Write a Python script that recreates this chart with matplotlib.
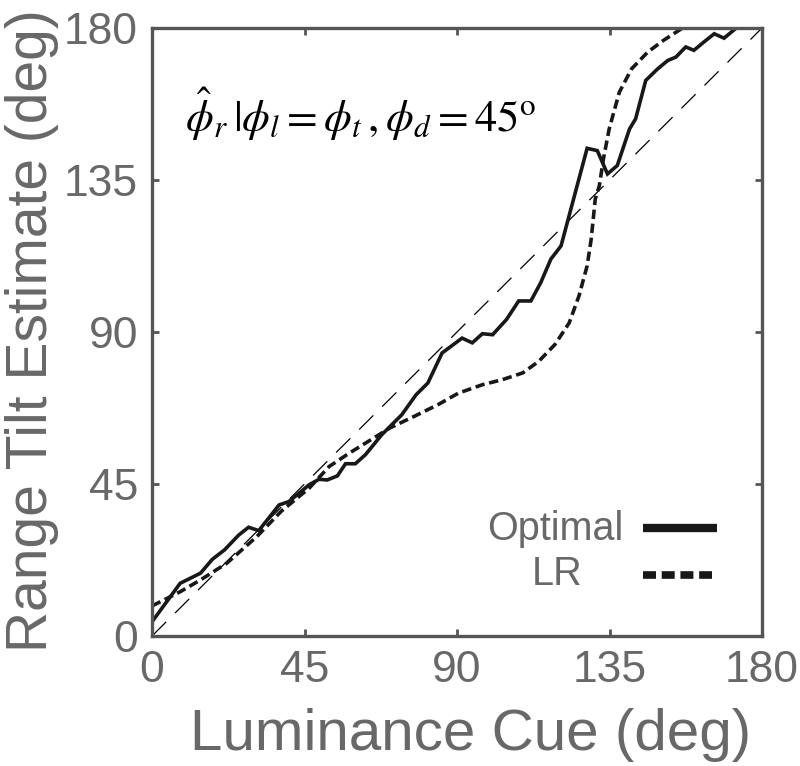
import matplotlib
matplotlib.use("Agg")
import matplotlib.pyplot as plt
from matplotlib.lines import Line2D

# Optimal estimator (solid)
opt_x = [0, 8.3, 14.3, 17.8, 21.4, 25.6, 28.5, 31.5, 37.5, 40.4, 46.4, 49.3, 51.7, 54.7,
         57.1, 60.0, 63.0, 67.8, 73.7, 77.9, 81.4, 85.6, 91.5, 94.5, 97.5, 100.5, 104.6,
         108.2, 111.8, 114.7, 117.7, 120.7, 128.4, 131.4, 134.4, 137.3, 140.9, 142.7,
         145.7, 149.2, 152.2, 154.6, 157.5, 159.9, 162.9, 165.9, 168.8, 172.4]
opt_y = [4.2, 15.6, 18.6, 22.7, 25.5, 29.9, 32.2, 31.2, 38.8, 39.8, 44.8, 46.4, 46.2, 47.4,
         51.0, 51.0, 53.7, 59.6, 65.5, 71.4, 74.9, 83.8, 88.2, 86.8, 89.5, 89.2, 93.7,
         99.2, 99.2, 104.6, 111.6, 115.5, 144.4, 143.7, 136.8, 139.3, 150.1, 153.1,
         164.5, 167.9, 170.4, 171.4, 174.4, 173.4, 175.9, 178.3, 177.0, 180.0]

# Linear regression estimator (dashed)
lr_x = [0, 8.3, 14.3, 22.0, 30.9, 38.1, 46.4, 52.3, 58.3, 65.4, 70.2, 77.3, 84.4, 90.4,
        97.5, 103.4, 109.4, 114.1, 118.9, 123.1, 126.0, 128.4, 129.6, 130.8, 132.0,
        133.2, 134.9, 137.9, 141.5, 146.3, 151.0, 157.0]
lr_y = [8.9, 13.1, 16.6, 21.5, 29.4, 36.9, 43.8, 50.2, 54.2, 58.6, 61.6, 65.0, 68.5, 71.9,
        74.4, 75.9, 77.9, 81.3, 86.3, 92.7, 100.7, 109.6, 117.5, 129.4, 133.3,
        141.2, 150.1, 161.0, 167.9, 172.9, 176.4, 180.3]

ticks = [0, 45, 90, 135, 180]
series_names = ['Optimal', 'LR']
gray = "#686868"
ink = "#181818"

plt.rcParams['font.family'] = ['Liberation Sans', 'DejaVu Sans']
plt.rcParams['mathtext.fontset'] = 'stix'

fig = plt.figure(figsize=(8, 7.66), dpi=100)
ax = fig.add_axes([0.19, 0.1697, 0.7625, 0.7937])

ax.plot([0, 180], [0, 180], color='black', lw=0.9, dashes=(16, 10))
ax.plot(opt_x, opt_y, color=ink, lw=2.6, solid_joinstyle='miter')
ax.plot(lr_x, lr_y, color=ink, lw=2.6, dashes=(2.6, 1.3))

ax.set_xlim(0, 180)
ax.set_ylim(0, 180)
ax.set_xticks(ticks)
ax.set_yticks(ticks)
ax.tick_params(direction='in', length=5, width=2, colors='#555555', labelsize=32,
               labelcolor=gray, top=True, right=True, pad=10)
for s in ax.spines.values():
    s.set_color('#555555')
    s.set_linewidth(2.4)

ax.set_xlabel('Luminance Cue (deg)', fontsize=42, color=gray)
ax.xaxis.label.set_va('baseline')
ax.xaxis.set_label_coords(0.523, -0.1875)
ax.set_ylabel('Range Tilt Estimate (deg)', fontsize=41, color=gray)
ax.yaxis.set_label_coords(-0.153, 0.503)

ax.text(0.054, 0.829, r'$\hat{\phi}_r\,|\phi_l=\phi_t\,,\phi_d=45^{\mathrm{o}}$',
        transform=ax.transAxes, fontsize=32, color='black', va='baseline', ha='left')

# legend (text centred, thick handles on the right)
ax.text(0.661, 0.158, series_names[0], transform=ax.transAxes, fontsize=28.5,
        color=gray, ha='center', va='baseline')
ax.text(0.664, 0.084, series_names[1], transform=ax.transAxes, fontsize=28.5,
        color=gray, ha='center', va='baseline')
ax.add_line(Line2D([0.805, 0.926], [0.178, 0.178], transform=ax.transAxes,
                   color=ink, lw=6, solid_capstyle='butt'))
ax.add_line(Line2D([0.805, 0.918], [0.100, 0.100], transform=ax.transAxes,
                   color=ink, lw=5.5, dashes=(1.70, 0.75), dash_capstyle='butt'))

fig.savefig('out.png', dpi=100)
